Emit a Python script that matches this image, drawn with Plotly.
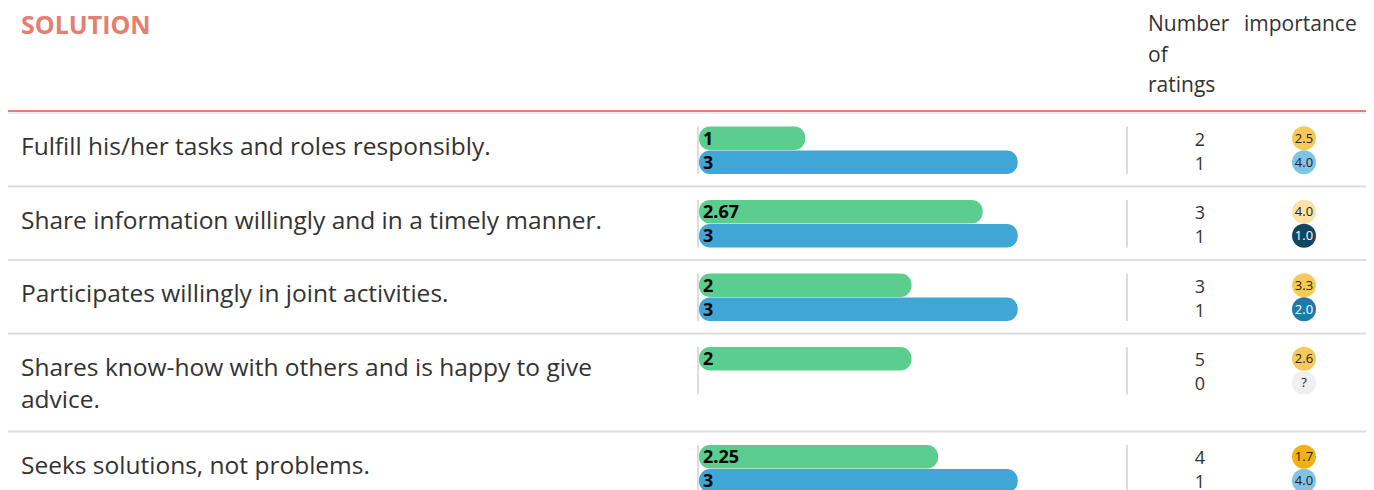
import plotly.graph_objects as go

# ---------------- data ----------------
section_title = "SOLUTION"
statements = [
    "Fulfill his/her tasks and roles responsibly.",
    "Share information willingly and in a timely manner.",
    "Participates willingly in joint activities.",
    "Shares know-how with others and is happy to give<br>advice.",
    "Seeks solutions, not problems.",
]
score_green = [1, 2.67, 2, 2, 2.25]
score_blue = [3, 3, 3, None, 3]
ratings_green = [2, 3, 3, 5, 4]
ratings_blue = [1, 1, 1, 0, 1]
importance_green = [2.5, 4.0, 3.3, 2.6, 1.7]
importance_blue = [4.0, 1.0, 2.0, None, 4.0]
col_header_ratings = ["Number", "of", "ratings"]
col_header_importance = "importance"

# ---------------- layout constants (pixels) ----------------
W, H = 1374, 490
OFF = 8  # page body margin
FONT = "Open Sans"
TXT = "#333333"
GREEN = "#5acd8f"
BLUE = "#3fa6d6"
SALMON = "#e3806f"
GRID = "#dddddd"
HEADER_BOTTOM = 113
ROW_BASE = 73.5
EXTRA_LINE = 24.5
BAR_H = 23.5
BAR_TOP_PAD = 13.5
X_BAR0, X_BAR1 = 699, 1124
X_MAX = 4
LABEL_PAD = 4 * X_MAX / (X_BAR1 - X_BAR0)  # 4px inside the bar, in data units
X_COUNT = 1200
X_IMP = 1304
TEXT_DY = 2

# row geometry derived from row index / number of text lines
row_tops = []
t = HEADER_BOTTOM
for s in statements:
    row_tops.append(t)
    t += ROW_BASE + EXTRA_LINE * (s.count("<br>"))
y_green = [rt + BAR_TOP_PAD + BAR_H / 2 for rt in row_tops]
y_blue = [y + BAR_H + 0.5 for y in y_green]


def imp_color(v, pal):
    if v is None:
        return "#f0f0f0"
    if pal == "y":
        if v < 2:
            return "#f0b20e"
        if v < 3.6:
            return "#f6ca5a"
        return "#fae2a6"
    if v < 1.5:
        return "#12465f"
    if v < 3:
        return "#1f7ba6"
    return "#7fc4e4"


def imp_text_color(v, pal):
    if v is not None and pal == "b" and v < 3:
        return "white"
    return "#222222"


fig = go.Figure()

# bars
for vals, ys, col in [(score_green, y_green, GREEN), (score_blue, y_blue, BLUE)]:
    fig.add_trace(go.Bar(
        x=vals, y=ys, orientation="h", width=BAR_H, base=0,
        marker=dict(color=col, cornerradius=12, line=dict(width=0)),
        xaxis="x", yaxis="y", showlegend=False, hoverinfo="skip",
    ))
    # value labels at the start of each bar
    fig.add_trace(go.Scatter(
        x=[LABEL_PAD for v in vals], y=[y + TEXT_DY for y in ys], mode="text",
        text=["" if v is None else f"<b>{v:g}</b>" for v in vals],
        textposition="middle right",
        textfont=dict(family=FONT, size=18, color="black"),
        xaxis="x", yaxis="y", showlegend=False, hoverinfo="skip", cliponaxis=False,
    ))

# rating counts
for cnt, ys in [(ratings_green, y_green), (ratings_blue, y_blue)]:
    fig.add_trace(go.Scatter(
        x=[X_COUNT] * len(cnt), y=[y + TEXT_DY + 1 for y in ys], mode="text",
        text=[str(c) for c in cnt],
        textfont=dict(family=FONT, size=18, color=TXT),
        xaxis="x2", yaxis="y", showlegend=False, hoverinfo="skip", cliponaxis=False,
    ))

# importance circles
for imp, ys, pal in [(importance_green, y_green, "y"), (importance_blue, y_blue, "b")]:
    fig.add_trace(go.Scatter(
        x=[X_IMP] * len(imp), y=ys, mode="markers",
        marker=dict(size=24, color=[imp_color(v, pal) for v in imp], line=dict(width=0)),
        xaxis="x2", yaxis="y", showlegend=False, hoverinfo="skip", cliponaxis=False,
    ))
    fig.add_trace(go.Scatter(
        x=[X_IMP] * len(imp), y=[y + 1 for y in ys], mode="text",
        text=["?" if v is None else f"{v:.1f}" for v in imp],
        textposition="middle center",
        textfont=dict(family=FONT, size=13, color=[imp_text_color(v, pal) for v in imp]),
        xaxis="x2", yaxis="y", showlegend=False, hoverinfo="skip", cliponaxis=False,
    ))

shapes = []
annotations = []
# header
annotations.append(dict(x=19, y=24, xref="x2", yref="y", text=f"<b>{section_title}</b>",
                        showarrow=False, xanchor="left", yanchor="middle",
                        font=dict(family=FONT, size=25, color=SALMON)))
for k, line in enumerate(col_header_ratings):
    annotations.append(dict(x=1146, y=23 + 30.5 * k, xref="x2", yref="y", text=line,
                            showarrow=False, xanchor="left", yanchor="middle", align="left",
                            font=dict(family=FONT, size=21, color=TXT)))
annotations.append(dict(x=1242, y=23, xref="x2", yref="y", text=col_header_importance,
                        showarrow=False, xanchor="left", yanchor="middle", align="left",
                        font=dict(family=FONT, size=21, color=TXT)))
shapes.append(dict(type="line", xref="x2", yref="y", x0=8, x1=1368, y0=111, y1=111,
                   line=dict(color=SALMON, width=2)))
shapes.append(dict(type="line", xref="x2", yref="y", x0=8, x1=1368, y0=113, y1=113,
                   line=dict(color=GRID, width=1)))

for i, s in enumerate(statements):
    rt = row_tops[i]
    annotations.append(dict(x=19, y=rt + 14, xref="x2", yref="y", text=s,
                            showarrow=False, xanchor="left", yanchor="top", align="left",
                            font=dict(family=FONT, size=24.5, color=TXT)))
    top = y_green[i] - BAR_H / 2
    bot = y_blue[i] + BAR_H / 2
    for xv in (698, 1127):
        shapes.append(dict(type="line", xref="x2", yref="y", x0=xv, x1=xv, y0=top, y1=bot,
                           line=dict(color=GRID, width=2)))
    if i > 0:
        shapes.append(dict(type="line", xref="x2", yref="y", x0=8, x1=1368, y0=rt, y1=rt,
                           line=dict(color=GRID, width=2)))

fig.update_layout(
    width=W, height=H, margin=dict(l=0, r=0, t=0, b=0),
    paper_bgcolor="white", plot_bgcolor="rgba(0,0,0,0)",
    barmode="overlay", showlegend=False,
    xaxis=dict(domain=[(X_BAR0 - OFF) / W, (X_BAR1 - OFF) / W], range=[0, X_MAX],
               visible=False, fixedrange=True),
    xaxis2=dict(domain=[0, 1], range=[OFF, W + OFF], visible=False, anchor="y", fixedrange=True),
    yaxis=dict(domain=[0, 1], range=[H + OFF, OFF], visible=False, fixedrange=True),
    shapes=shapes, annotations=annotations,
)

fig.write_html("out.html")
